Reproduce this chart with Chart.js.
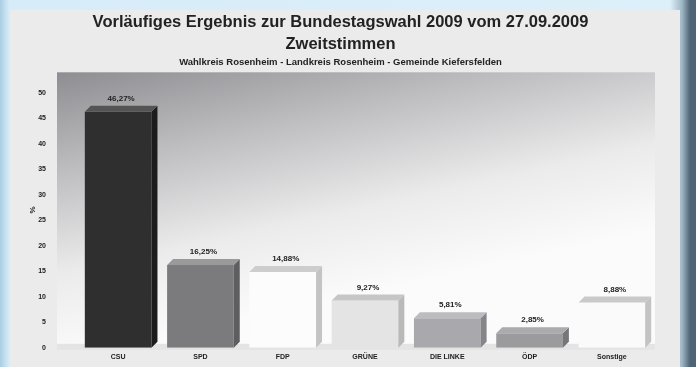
<!DOCTYPE html>
<html lang="de">
<head>
<meta charset="utf-8">
<title>Bundestagswahl 2009 - Zweitstimmen</title>
<script src="https://cdn.jsdelivr.net/npm/chart.js@4.4.1/dist/chart.umd.min.js"></script>
<style>
    html, body {
        margin: 0;
        padding: 0;
        width: 696px;
        height: 367px;
        overflow: hidden;
        background: linear-gradient(90deg, #a9cde2 0px, #d6ecf8 9px, #dcf0fa 670px, #9fb6c6 682px, #4f6577 690px);
        font-family: "Liberation Sans", Arial, sans-serif;
    }
    #panel {
        position: absolute;
        left: 10px;
        top: 10px;
        width: 670px;
        height: 357px;
        background: #ebebeb;
        overflow: hidden;
    }
    #wahlChart {
        position: absolute;
        left: 0;
        top: 0;
    }
</style>
</head>
<body>
<div id="panel">
    <canvas id="wahlChart" width="670" height="373"></canvas>
</div>
<script>
// Parteien und Zweitstimmen in %
const parteien = ['CSU', 'SPD', 'FDP', 'GRÜNE', 'DIE LINKE', 'ÖDP', 'Sonstige'];
const prozent = [46.27, 16.25, 14.88, 9.27, 5.81, 2.85, 8.88];
const yTicks = [0, 5, 10, 15, 20, 25, 30, 35, 40, 45, 50];

// Farben: Vorderseite, Seite, Deckel
const frontFarben = ['#2f2f2f', '#7b7b7d', '#fcfcfc', '#e4e4e4', '#a9a9ad', '#9b9b9d', '#fafafa'];
const seitenFarben = ['#1c1c1c', '#5e5e60', '#c4c4c4', '#b9b9b9', '#86868a', '#767678', '#c3c3c3'];
const deckelFarben = ['#545454', '#9a9a9c', '#cdcdcd', '#c6c6c6', '#bcbcc0', '#ababad', '#c9c9c9'];

const TIEFE = 6;
const schrift = '"Liberation Sans", Arial, sans-serif';

// Plot-Hintergrund mit Verlauf
const hintergrundPlugin = {
    id: 'hintergrund',
    beforeDatasetsDraw(chart) {
        const { ctx, chartArea } = chart;
        const left = chartArea.left - 20;
        const grad = ctx.createLinearGradient(left, chartArea.top, left + 60, chartArea.bottom);
        grad.addColorStop(0, '#8e8e92');
        grad.addColorStop(0.35, '#bebec1');
        grad.addColorStop(0.7, '#ebebeb');
        grad.addColorStop(1, '#fbfbfb');
        ctx.save();
        ctx.fillStyle = grad;
        ctx.fillRect(left, chartArea.top, chartArea.right + 2 - left, chartArea.bottom - chartArea.top);
        // Boden
        ctx.fillStyle = '#e4e4e4';
        ctx.fillRect(left, chartArea.bottom - 4, chartArea.right + 2 - left, 6);
        ctx.restore();
    }
};

// 3D-Seiten, Deckel und Beschriftung
const balken3dPlugin = {
    id: 'balken3d',
    afterDatasetsDraw(chart) {
        const { ctx } = chart;
        const meta = chart.getDatasetMeta(0);
        ctx.save();
        meta.data.forEach((bar, i) => {
            const { x, y, base, width } = bar.getProps(['x', 'y', 'base', 'width'], true);
            const l = x - width / 2;
            const r = x + width / 2;

            ctx.fillStyle = seitenFarben[i];
            ctx.beginPath();
            ctx.moveTo(r, y);
            ctx.lineTo(r + TIEFE, y - TIEFE);
            ctx.lineTo(r + TIEFE, base - TIEFE);
            ctx.lineTo(r, base);
            ctx.closePath();
            ctx.fill();

            ctx.fillStyle = deckelFarben[i];
            ctx.beginPath();
            ctx.moveTo(l, y);
            ctx.lineTo(l + TIEFE, y - TIEFE);
            ctx.lineTo(r + TIEFE, y - TIEFE);
            ctx.lineTo(r, y);
            ctx.closePath();
            ctx.fill();

            ctx.fillStyle = '#222';
            ctx.font = 'bold 8px ' + schrift;
            ctx.textAlign = 'center';
            ctx.textBaseline = 'bottom';
            const text = prozent[i].toFixed(2).replace('.', ',') + '%';
            ctx.fillText(text, x + TIEFE / 2, y - TIEFE - 3);
        });
        ctx.restore();
    }
};

new Chart(document.getElementById('wahlChart'), {
    type: 'bar',
    data: {
        labels: parteien,
        datasets: [{
            data: prozent,
            backgroundColor: frontFarben,
            borderWidth: 0,
            barPercentage: 0.9,
            categoryPercentage: 0.9
        }]
    },
    options: {
        responsive: false,
        animation: false,
        layout: {
            padding: { left: 18, right: 27, top: 0, bottom: 0 }
        },
        plugins: {
            legend: { display: false },
            tooltip: { enabled: false },
            title: {
                display: true,
                text: ['Vorläufiges Ergebnis zur Bundestagswahl 2009 vom 27.09.2009', 'Zweitstimmen'],
                color: '#222',
                font: { family: schrift, size: 16.5, weight: 'bold', lineHeight: 1.3 },
                padding: { top: 2, bottom: 2 }
            },
            subtitle: {
                display: true,
                text: 'Wahlkreis Rosenheim - Landkreis Rosenheim - Gemeinde Kiefersfelden',
                color: '#222',
                font: { family: schrift, size: 9.5, weight: 'bold' },
                padding: { top: 0, bottom: 4 }
            }
        },
        scales: {
            x: {
                grid: { display: false, drawTicks: false },
                border: { display: false },
                afterFit(scale) { scale.height = 20; },
                ticks: {
                    color: '#222',
                    font: { family: schrift, size: 7, weight: 'bold' },
                    padding: 5
                }
            },
            y: {
                min: 0,
                max: 54,
                grid: { display: false, drawTicks: false },
                border: { display: false },
                afterFit(scale) { scale.width = 49; },
                afterBuildTicks(scale) {
                    scale.ticks = yTicks.map(v => ({ value: v }));
                },
                ticks: {
                    color: '#222',
                    font: { family: schrift, size: 7, weight: 'bold' },
                    padding: 31
                },
                title: {
                    display: true,
                    text: '%',
                    color: '#222',
                    font: { family: schrift, size: 8, weight: 'bold' },
                    padding: 0
                }
            }
        }
    },
    plugins: [hintergrundPlugin, balken3dPlugin]
});
</script>
</body>
</html>
